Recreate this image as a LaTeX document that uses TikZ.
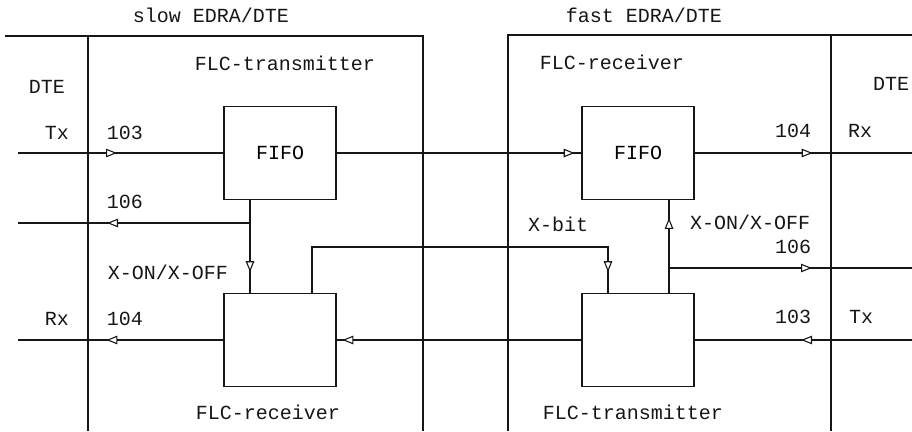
\documentclass[tikz,border=0pt]{standalone}
\usepackage{fontspec}
\setmainfont{Liberation Mono}
\usetikzlibrary{arrows.meta,positioning,decorations.markings}
\definecolor{ink}{HTML}{161616}
\tikzset{
  unit/.style={draw=ink, line width=1.3pt, minimum width=112pt, minimum height=93pt,
               inner sep=0pt, font=\fontsize{20}{24}\selectfont},
  wire/.style={draw=ink, line width=1.2pt},
  frame/.style={draw=ink, line width=1.3pt},
  lbl/.style={inner sep=0pt, text=ink, font=\fontsize{20}{24}\selectfont},
  flow/.style={postaction={decorate, decoration={markings,
      mark=at position #1 with {\arrow{Triangle[length=11pt,width=8.5pt,fill=white,line width=1.1pt]}}}}}
}
\begin{document}
\begin{tikzpicture}[x=1pt,y=-1pt]
        \useasboundingbox (0,0) rectangle (912,431);
        % the two equipment frames
        \draw[frame] (5,36) -| (423,431);
        \draw[frame] (88,36) -- (88,431);
        \draw[frame] (912,35) -| (508,431);
        \draw[frame] (831,35) -- (831,431);

        \node[unit] (fifoS) at (280,153) {FIFO};
        \node[unit] (ctrlS) at (280,340) {};
        \node[unit] (fifoF) at (638,153) {FIFO};
        \node[unit] (ctrlF) at (638,340) {};

        \coordinate (txS) at (18,153);
        \coordinate (ctsS) at (18,223);
        \coordinate (rxS) at (18,340);
        \coordinate (rxF) at (912,153);
        \coordinate (ctsF) at (912,268);
        \coordinate (txF) at (912,340);
        \coordinate (tapS) at (250,223);
        \coordinate (tapF) at (669,268);
        \coordinate (xbitA) at (312,247);
        \coordinate (xbitB) at (608,247);

        \draw[wire,flow=99pt] (txS) -- (fifoS.west);
        \draw[wire,flow=238pt] (fifoS.east) -- (fifoF.west);
        \draw[wire,flow=118pt] (fifoF.east) -- (rxF);
        \draw[wire,flow=72pt] (fifoS.south -| tapS) -- (ctrlS.north -| tapS);
        \draw[wire,flow=143pt] (tapS) -- (ctsS);
        \draw[wire,flow=117pt] (ctrlS.west) -- (rxS);
        \draw[wire,flow=367pt] (ctrlS.north -| xbitA) -- (xbitA) -- (xbitB) -- (ctrlF.north -| xbitB);
        \draw[wire,flow=239pt] (ctrlF.west) -- (ctrlS.east);
        \draw[wire,flow=111pt] (txF) -- (ctrlF.east);
        \draw[wire,flow=75pt] (ctrlF.north -| tapF) -- (fifoF.south -| tapF);
        \draw[wire,flow=143pt] (tapF) -- (ctsF);

        \node[lbl] (slowT) at (211,15) {slow EDRA/DTE};
        \node[lbl] (fastT) at (644,15) {fast EDRA/DTE};
        \node[lbl] (txTop) at (285,63) {FLC-transmitter};
        \node[lbl] (rxTop) at (612,62) {FLC-receiver};
        \node[lbl] (rxBot) at (268,412) {FLC-receiver};
        \node[lbl] (txBot) at (633,412) {FLC-transmitter};
        \node[lbl] (dteS) at (47,87) {DTE};
        \node[lbl] (dteF) at (891,84) {DTE};
        \node[lbl] (txSl) at (57,133) {Tx};
        \node[lbl] (n103S) at (125,133) {103};
        \node[lbl] (n106S) at (125,202) {106};
        \node[lbl] (xonS) at (168,272) {X-ON/X-OFF};
        \node[lbl] (rxSl) at (57,319) {Rx};
        \node[lbl] (n104S) at (125,319) {104};
        \node[lbl] (n104F) at (793,131) {104};
        \node[lbl] (rxFl) at (860,131) {Rx};
        \node[lbl] (xbit) at (558,224) {X-bit};
        \node[lbl] (xonF) at (750,222) {X-ON/X-OFF};
        \node[lbl] (n106F) at (793,247) {106};
        \node[lbl] (n103F) at (793,317) {103};
        \node[lbl] (txFl) at (861,317) {Tx};
\end{tikzpicture}
\end{document}
